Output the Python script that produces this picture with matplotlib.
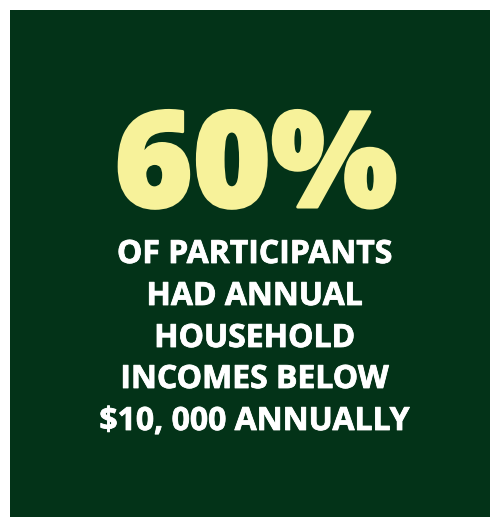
import matplotlib
matplotlib.use("Agg")
import matplotlib.pyplot as plt
from matplotlib.patches import Rectangle
import matplotlib.patheffects as pe

W, H = 490, 517
headline = "60%"
lines = ["OF PARTICIPANTS", "HAD ANNUAL", "HOUSEHOLD", "INCOMES BELOW", "$10, 000 ANNUALLY"]

bg = "#033318"
yellow = "#F7F29A"

fig = plt.figure(figsize=(W/100, H/100), dpi=100)
fig.patch.set_facecolor("white")
ax = fig.add_axes([0, 0, 1, 1])
ax.set_xlim(0, W)
ax.set_ylim(H, 0)
ax.axis("off")
ax.add_patch(Rectangle((10, 10), W-10, H-10, facecolor=bg, edgecolor="none"))

ax.text(256, 207, headline, ha="center", va="baseline", color=yellow,
        fontsize=96, fontweight=900, family=["Open Sans", "DejaVu Sans"],
        path_effects=[pe.Stroke(linewidth=2.2, foreground=yellow), pe.Normal()])

cx = 255
baselines = [263, 305, 347, 388, 430]
for t, b in zip(lines, baselines):
    ax.text(cx, b, t, ha="center", va="baseline", color="white",
            fontsize=23, fontweight="bold", family=["Open Sans", "DejaVu Sans"],
            path_effects=[pe.Stroke(linewidth=0.6, foreground="white"), pe.Normal()])

fig.savefig("out.png", dpi=100, facecolor=fig.get_facecolor())
